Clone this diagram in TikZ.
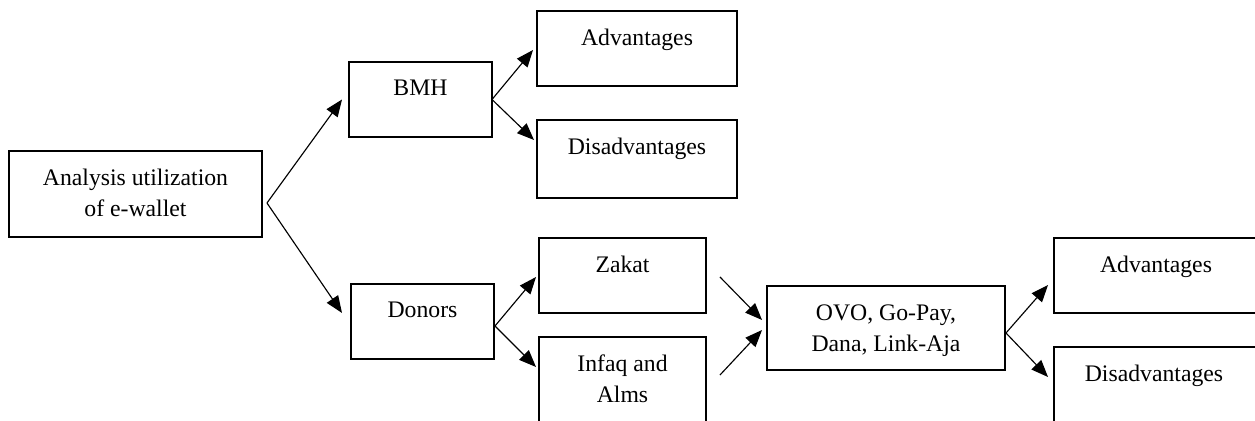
\documentclass[tikz,border=0pt]{standalone}
\usepackage{fontspec}
\setmainfont{Liberation Serif}
\usepackage{tikz}
\usetikzlibrary{arrows.meta,positioning}

\begin{document}
\begin{tikzpicture}[x=0.02cm, y=-0.02cm,
    box/.style={rectangle, draw, line width=0.7pt, inner sep=0pt, outer sep=0pt},
    txt/.style={inner sep=0pt, outer sep=0pt, align=center, font=\fontsize{13.5}{17.6}\selectfont},
    arr/.style={line width=0.65pt, -{Triangle[length=0.34cm, width=0.27cm]}}]
    \clip (0,0) rectangle (1255,421);

    % Analysis
    \node[box, minimum width=5.06cm, minimum height=1.72cm] (ana) at (135.5,194) {};
    \node[txt, below=0.37cm of ana.north] (ana-t) {Analysis utilization\\of e-wallet};

    % BMH branch
    \node[box, minimum width=2.86cm, minimum height=1.5cm] (bmh) at (420.5,99.5) {};
    \node[txt, below=0.35cm of bmh.north] (bmh-t) {BMH};
    \node[box, minimum width=4cm, minimum height=1.5cm] (adv1) at (637,48.5) {};
    \node[txt, below=0.36cm of adv1.north] (adv1-t) {Advantages};
    \node[box, minimum width=4cm, minimum height=1.56cm] (dis1) at (637,159) {};
    \node[txt, below=0.36cm of dis1.north] (dis1-t) {Disadvantages};

    % Donors branch
    \node[box, minimum width=2.86cm, minimum height=1.5cm] (don) at (422.5,321.5) {};
    \node[txt, below=0.36cm of don.north] (don-t) {Donors};
    \node[box, minimum width=3.34cm, minimum height=1.5cm] (zak) at (622.5,275.5) {};
    \node[txt, below=0.37cm of zak.north] (zak-t) {Zakat};
    \node[box, minimum width=3.34cm, minimum height=2cm] (inf) at (622.5,387) {};
    \node[txt, below=0.36cm of inf.north] (inf-t) {Infaq and\\Alms};

    % E-wallets
    \node[box, minimum width=4.76cm, minimum height=1.68cm] (ovo) at (886,328) {};
    \node[txt, below=0.37cm of ovo.north] (ovo-t) {OVO, Go-Pay,\\Dana, Link-Aja};
    \node[box, minimum width=4.2cm, minimum height=1.5cm] (adv2) at (1159,275.5) {};
    \node[txt, below=0.37cm of adv2.north, xshift=-0.06cm] (adv2-t) {Advantages};
    \node[box, minimum width=4.2cm, minimum height=2cm] (dis2) at (1159,397) {};
    \node[txt, below=0.37cm of dis2.north, xshift=-0.1cm] (dis2-t) {Disadvantages};

    % Arrows
    \coordinate (fork) at ([shift={(5,9)}]ana.east);
    \draw[arr] (fork) -- ([shift={(-7,0)}]bmh.west);
    \draw[arr] (fork) -- ([shift={(-9,-8.5)}]don.west);
    \draw[arr] (bmh.east) -- ([shift={(-4,1.5)}]adv1.west);
    \draw[arr] (bmh.east) -- ([shift={(-3,-19)}]dis1.west);
    \draw[arr] ([shift={(1,4.5)}]don.east) -- ([shift={(-3,1.5)}]zak.west);
    \draw[arr] ([shift={(1,4.5)}]don.east) -- ([shift={(-3,30)}]inf.north west);
    \draw[arr] ([shift={(14,1.5)}]zak.east) -- ([shift={(-5,-8)}]ovo.west);
    \draw[arr] ([shift={(14,38)}]inf.north east) -- ([shift={(-5,2)}]ovo.west);
    \draw[arr] ([shift={(1,5)}]ovo.east) -- ([shift={(-6,9.5)}]adv2.west);
    \draw[arr] ([shift={(1,5)}]ovo.east) -- ([shift={(-6,30)}]dis2.north west);
\end{tikzpicture}
\end{document}
